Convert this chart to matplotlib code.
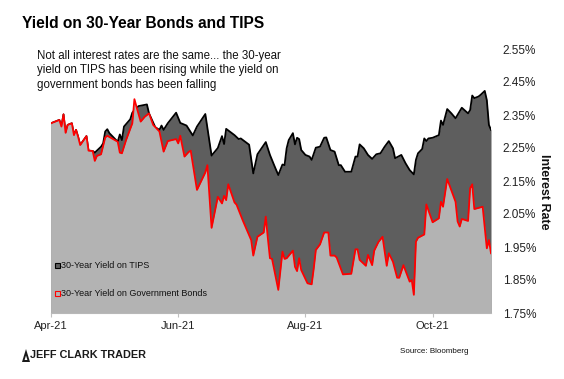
import matplotlib
matplotlib.use("Agg")
import matplotlib.pyplot as plt
import matplotlib.dates as mdates
from matplotlib.patches import Polygon, Rectangle
import pandas as pd

# ---------------- data ----------------
bond_dates = [
    "2021-04-01", "2021-04-05", "2021-04-06", "2021-04-07", "2021-04-08", "2021-04-09",
    "2021-04-11", "2021-04-12", "2021-04-13", "2021-04-14", "2021-04-15", "2021-04-18",
    "2021-04-19", "2021-04-21", "2021-04-22", "2021-04-23", "2021-04-25", "2021-04-27",
    "2021-04-28", "2021-05-03", "2021-05-04", "2021-05-05", "2021-05-07", "2021-05-10",
    "2021-05-11", "2021-05-12", "2021-05-14", "2021-05-16", "2021-05-18", "2021-05-20",
    "2021-05-23", "2021-05-25", "2021-05-27", "2021-05-31", "2021-06-01", "2021-06-02",
    "2021-06-04", "2021-06-06", "2021-06-07", "2021-06-10", "2021-06-14", "2021-06-15",
    "2021-06-17", "2021-06-20", "2021-06-22", "2021-06-23", "2021-06-24", "2021-06-25",
    "2021-06-28", "2021-06-29", "2021-07-02", "2021-07-06", "2021-07-07", "2021-07-09",
    "2021-07-12", "2021-07-13", "2021-07-14", "2021-07-15", "2021-07-16", "2021-07-19",
    "2021-07-21", "2021-07-22", "2021-07-23", "2021-07-26", "2021-07-27", "2021-07-28",
    "2021-07-29", "2021-07-30", "2021-08-02", "2021-08-04", "2021-08-05", "2021-08-06",
    "2021-08-08", "2021-08-10", "2021-08-12", "2021-08-13", "2021-08-15", "2021-08-16",
    "2021-08-19", "2021-08-23", "2021-08-25", "2021-08-26", "2021-08-27", "2021-08-30",
    "2021-08-31", "2021-09-02", "2021-09-03", "2021-09-05", "2021-09-07", "2021-09-09",
    "2021-09-10", "2021-09-12", "2021-09-14", "2021-09-15", "2021-09-17", "2021-09-20",
    "2021-09-21", "2021-09-22", "2021-09-23", "2021-09-24", "2021-09-27", "2021-09-28",
    "2021-10-01", "2021-10-04", "2021-10-05", "2021-10-06", "2021-10-08", "2021-10-12",
    "2021-10-13", "2021-10-14", "2021-10-15", "2021-10-18", "2021-10-19", "2021-10-20",
    "2021-10-21", "2021-10-25", "2021-10-27", "2021-10-28", "2021-10-29",
]
bond_yield = [
    2.325, 2.335, 2.315, 2.352, 2.296, 2.320,
    2.325, 2.289, 2.305, 2.284, 2.259, 2.286,
    2.242, 2.241, 2.211, 2.226, 2.231, 2.282,
    2.287, 2.269, 2.236, 2.234, 2.274, 2.325,
    2.398, 2.375, 2.330, 2.345, 2.355, 2.320,
    2.300, 2.239, 2.271, 2.277, 2.264, 2.287,
    2.224, 2.238, 2.242, 2.123, 2.176, 2.198,
    2.008, 2.102, 2.082, 2.105, 2.092, 2.140,
    2.085, 2.078, 2.030, 1.971, 1.924, 1.981,
    1.994, 2.042, 1.976, 1.916, 1.914, 1.820,
    1.936, 1.914, 1.916, 1.939, 1.890, 1.877,
    1.916, 1.880, 1.840, 1.837, 1.885, 1.941,
    1.958, 1.994, 1.994, 1.924, 1.924, 1.918,
    1.867, 1.869, 1.943, 1.943, 1.911, 1.893,
    1.926, 1.895, 1.939, 1.965, 1.981, 1.893,
    1.931, 1.905, 1.857, 1.857, 1.895, 1.845,
    1.850, 1.805, 1.966, 1.978, 1.988, 2.079,
    2.025, 2.037, 2.087, 2.072, 2.156, 2.087,
    2.027, 2.012, 2.035, 2.029, 2.128, 2.140,
    2.065, 2.072, 1.946, 1.971, 1.931,
]

tips_dates = [
    "2021-04-01", "2021-04-05", "2021-04-06", "2021-04-07", "2021-04-08", "2021-04-09",
    "2021-04-11", "2021-04-12", "2021-04-13", "2021-04-14", "2021-04-15", "2021-04-18",
    "2021-04-19", "2021-04-21", "2021-04-22", "2021-04-25", "2021-04-26", "2021-04-27",
    "2021-04-28", "2021-04-29", "2021-05-03", "2021-05-04", "2021-05-05", "2021-05-06",
    "2021-05-09", "2021-05-10", "2021-05-11", "2021-05-13", "2021-05-17", "2021-05-18",
    "2021-05-21", "2021-05-23", "2021-05-24", "2021-05-25", "2021-05-27", "2021-05-31",
    "2021-06-02", "2021-06-05", "2021-06-08", "2021-06-10", "2021-06-14", "2021-06-17",
    "2021-06-20", "2021-06-22", "2021-06-23", "2021-06-24", "2021-06-28", "2021-06-30",
    "2021-07-01", "2021-07-05", "2021-07-07", "2021-07-09", "2021-07-13", "2021-07-15",
    "2021-07-17", "2021-07-19", "2021-07-21", "2021-07-22", "2021-07-23", "2021-07-24",
    "2021-07-26", "2021-07-27", "2021-07-28", "2021-07-29", "2021-07-30", "2021-08-01",
    "2021-08-03", "2021-08-04", "2021-08-06", "2021-08-08", "2021-08-10", "2021-08-11",
    "2021-08-13", "2021-08-15", "2021-08-17", "2021-08-18", "2021-08-20", "2021-08-23",
    "2021-08-25", "2021-08-26", "2021-08-27", "2021-08-29", "2021-08-31", "2021-09-02",
    "2021-09-04", "2021-09-06", "2021-09-08", "2021-09-10", "2021-09-12", "2021-09-13",
    "2021-09-16", "2021-09-18", "2021-09-20", "2021-09-22", "2021-09-23", "2021-09-24",
    "2021-09-26", "2021-09-27", "2021-09-28", "2021-09-29", "2021-10-01", "2021-10-04",
    "2021-10-05", "2021-10-06", "2021-10-08", "2021-10-10", "2021-10-12", "2021-10-15",
    "2021-10-18", "2021-10-19", "2021-10-20", "2021-10-21", "2021-10-23", "2021-10-24",
    "2021-10-26", "2021-10-27", "2021-10-28", "2021-10-29",
]
tips_yield = [
    2.325, 2.335, 2.315, 2.352, 2.296, 2.320,
    2.325, 2.289, 2.305, 2.284, 2.259, 2.286,
    2.242, 2.241, 2.236, 2.254, 2.264, 2.300,
    2.307, 2.295, 2.269, 2.291, 2.274, 2.315,
    2.337, 2.357, 2.365, 2.377, 2.382, 2.355,
    2.313, 2.305, 2.318, 2.305, 2.325, 2.357,
    2.326, 2.318, 2.288, 2.315, 2.353, 2.227,
    2.250, 2.286, 2.262, 2.308, 2.289, 2.277,
    2.279, 2.260, 2.173, 2.231, 2.268, 2.229,
    2.198, 2.168, 2.200, 2.198, 2.249, 2.274,
    2.295, 2.261, 2.281, 2.277, 2.244, 2.229,
    2.224, 2.214, 2.251, 2.254, 2.281, 2.282,
    2.244, 2.239, 2.198, 2.198, 2.178, 2.178,
    2.224, 2.224, 2.261, 2.249, 2.229, 2.217,
    2.231, 2.234, 2.254, 2.271, 2.249, 2.219,
    2.229, 2.204, 2.183, 2.170, 2.214, 2.234,
    2.247, 2.279, 2.271, 2.279, 2.281, 2.289,
    2.333, 2.320, 2.368, 2.355, 2.340, 2.372,
    2.355, 2.365, 2.409, 2.401, 2.406, 2.411,
    2.423, 2.395, 2.320, 2.305,
]

y_ticks = [1.75, 1.85, 1.95, 2.05, 2.15, 2.25, 2.35, 2.45, 2.55]
x_tick_dates = ["2021-04-01", "2021-06-01", "2021-08-01", "2021-10-01"]

title = "Yield on 30-Year Bonds and TIPS"
subtitle = ("Not all interest rates are the same... the 30-year\n"
            "yield on TIPS has been rising while the yield on\n"
            "government bonds has been falling")
tips_label = "30-Year Yield on TIPS"
bond_label = "30-Year Yield on Government Bonds"

plt.rcParams["font.family"] = ["Liberation Sans", "DejaVu Sans"]

# ---------------- figure ----------------
W, H = 564, 379
fig = plt.figure(figsize=(W / 100, H / 100), dpi=100)
fig.patch.set_facecolor("white")
ax = fig.add_axes([51 / W, 1 - 313 / H, 440 / W, 264 / H])

td = pd.to_datetime(tips_dates)
bd = pd.to_datetime(bond_dates)
base = y_ticks[0]

dark = "#5e5e5e"
light = "#b3b3b3"
ax.fill_between(td, tips_yield, base, color=dark, lw=0, zorder=1)
ax.plot(td, tips_yield, color="black", lw=1.3, zorder=2, solid_joinstyle="round")
ax.fill_between(bd, bond_yield, base, color=light, lw=0, zorder=3)
ax.plot(bd, bond_yield, color="#ff0000", lw=1.3, zorder=4, solid_joinstyle="round")

ax.set_xlim(td[0], td[-1])
ax.set_ylim(y_ticks[0], y_ticks[-1])

ax.yaxis.tick_right()
ax.set_yticks(y_ticks)
ax.set_yticklabels([f"{v:.2f}%" for v in y_ticks])
ax.tick_params(axis="y", length=0, pad=8.5, labelsize=8.5, colors="#222222")

ax.set_xticks(pd.to_datetime(x_tick_dates))
ax.xaxis.set_major_formatter(mdates.DateFormatter("%b-%y"))
ax.tick_params(axis="x", length=3, direction="out", color="#bfbfbf",
               labelsize=8, pad=3, labelcolor="#222222")

for s in ["top", "right", "left"]:
    ax.spines[s].set_visible(False)
ax.spines["bottom"].set_color("#bfbfbf")
ax.spines["bottom"].set_linewidth(0.8)

ylab = ax.set_ylabel("Interest Rate", rotation=270, fontsize=9, fontweight="bold",
                     color="#111111")
ax.yaxis.set_label_position("right")
ylab.set_ha("center")
ylab.set_va("center")
ax.yaxis.set_label_coords((544 - 51) / 440, (313 - 192) / 264)

# ---------------- legend (inside plot) ----------------
ax.add_patch(Rectangle((55 / W, 1 - 268 / H), 5 / W, 5 / H, transform=fig.transFigure,
                       facecolor=dark, edgecolor="black", lw=0.8, zorder=6))
fig.text(61 / W, 1 - 265.5 / H, tips_label, fontsize=6.5, va="center", ha="left",
         color="#111111")
ax.add_patch(Rectangle((55 / W, 1 - 296 / H), 5 / W, 5 / H, transform=fig.transFigure,
                       facecolor=light, edgecolor="#ff0000", lw=0.8, zorder=6))
fig.text(61 / W, 1 - 293.5 / H, bond_label, fontsize=6.5, va="center", ha="left",
         color="#111111")

# ---------------- texts ----------------
fig.text(22 / W, 1 - 23.5 / H, title, fontsize=11.2, fontweight="bold", va="center",
         ha="left", color="black")
fig.text(37 / W, 1 - 49.5 / H, subtitle, fontsize=8.3, va="top", ha="left",
         color="#111111", linespacing=1.28)
fig.text(400 / W, 1 - 351.5 / H, "Source: Bloomberg", fontsize=5.8, va="center",
         ha="left", color="#111111")

# logo
tri = Polygon([(22 / W, 1 - 362 / H), (26 / W, 1 - 349 / H), (30 / W, 1 - 362 / H)],
              closed=True, transform=fig.transFigure, facecolor="#1a1a1a",
              edgecolor="none")
fig.add_artist(tri)
tri2 = Polygon([(24.6 / W, 1 - 360 / H), (26 / W, 1 - 355.5 / H), (27.4 / W, 1 - 360 / H)],
               closed=True, transform=fig.transFigure, facecolor="white",
               edgecolor="none")
fig.add_artist(tri2)
fig.text(30.5 / W, 1 - 355.5 / H, "JEFF CLARK TRADER", fontsize=7.8, fontweight="bold",
         va="center", ha="left", color="#1a1a1a")

fig.savefig("out.png", dpi=100, facecolor="white")
